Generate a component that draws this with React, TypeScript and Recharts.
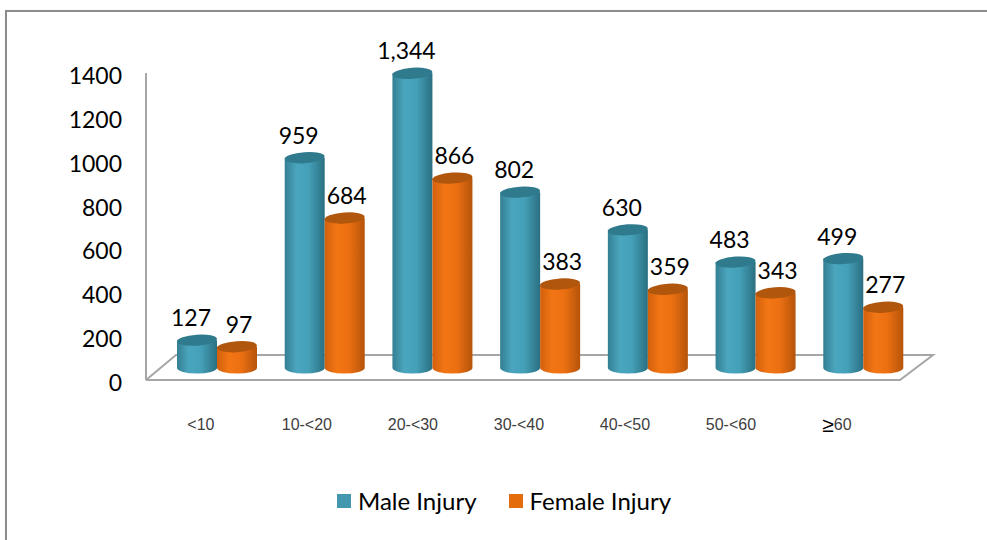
import React from 'react';
import { BarChart, Bar, XAxis, YAxis, LabelList, Customized } from 'recharts';

const categories = ['<10', '10-<20', '20-<30', '30-<40', '40-<50', '50-<60', '≥60'];
const maleInjury = [127, 959, 1344, 802, 630, 483, 499];
const femaleInjury = [97, 684, 866, 383, 359, 343, 277];
const yTicks = [0, 200, 400, 600, 800, 1000, 1200, 1400];

const data = categories.map((age, i) => ({
  age,
  male: maleInjury[i],
  female: femaleInjury[i],
}));

const W = 987;
const H = 540;
const PLOT_LEFT = 163;
const PLOT_RIGHT = 917;
const PLOT_TOP = 61;
const PLOT_BOTTOM = 368;
const X_AXIS_H = 60;

const FONT = 'Lato, "Open Sans", sans-serif';

const MALE = { top: '#2f7a8d', legend: '#4398b0', grad: 'gradMale', labelDx: -6 };
const FEMALE = { top: '#b0560d', legend: '#e46c0a', grad: 'gradFemale', labelDx: 2 };

function Cylinder(props: any) {
  const { x, y, width, height, kind } = props;
  if (width == null || height == null) return null;
  const c = kind === 'male' ? MALE : FEMALE;
  const rx = width / 2;
  const ry = 5.5;
  const cx = x + rx;
  const bottom = y + height;
  return (
    <g>
      <path
        d={`M${x},${y} L${x},${bottom} A${rx},${ry} 0 0 0 ${x + width},${bottom} L${x + width},${y} Z`}
        fill={`url(#${c.grad})`}
      />
      <ellipse cx={cx} cy={y} rx={rx} ry={ry} fill={c.top} transform={`rotate(-4 ${cx} ${y})`} />
    </g>
  );
}

function ValueLabel(props: any) {
  const { x, y, width, value, dx } = props;
  return (
    <text
      x={x + width / 2 + dx}
      y={y - 14}
      textAnchor="middle"
      fontFamily={FONT}
      fontSize={23}
      fill="#000"
    >
      {Number(value).toLocaleString('en-US')}
    </text>
  );
}

function YTick(props: any) {
  const { y, payload } = props;
  return (
    <text
      x={PLOT_LEFT - 41}
      y={y + 14}
      textAnchor="end"
      dominantBaseline="central"
      fontFamily={FONT}
      fontSize={23}
      fill="#000"
    >
      {payload.value}
    </text>
  );
}

function XTick(props: any) {
  const { x, payload, index } = props;
  const label: string = payload.value;
  const ge = label.startsWith('≥');
  return (
    <text
      x={x - 16 - index * 1.7}
      y={PLOT_BOTTOM + 56}
      textAnchor="middle"
      dominantBaseline="central"
      fontFamily='"Liberation Sans", Arial, sans-serif'
      fontSize={16}
      fill="#404040"
    >
      {ge ? (
        <>
          <tspan fontSize={21} fill="#000">≥</tspan>
          <tspan>{label.slice(1)}</tspan>
        </>
      ) : (
        label
      )}
    </text>
  );
}

// floor + left wall edge, drawn behind the cylinders
function Floor() {
  const front = PLOT_BOTTOM + 12;
  const back = PLOT_BOTTOM - 13;
  const stroke = '#a6a6a6';
  return (
    <g>
      <polyline
        points={`${PLOT_LEFT - 17},${front} ${PLOT_RIGHT - 17},${front} ${PLOT_RIGHT + 16},${back} ${PLOT_LEFT + 13},${back} ${PLOT_LEFT - 17},${front}`}
        fill="none"
        stroke={stroke}
        strokeWidth={2}
      />
      <line x1={PLOT_LEFT - 17} y1={front} x2={PLOT_LEFT - 17} y2={PLOT_TOP + 12} stroke={stroke} strokeWidth={2} />
    </g>
  );
}

function LegendItem({ color, label }: { color: string; label: string }) {
  return (
    <div style={{ display: 'flex', alignItems: 'center', marginRight: 32 }}>
      <span style={{ width: 14, height: 14, background: color, display: 'inline-block', marginRight: 7 }} />
      <span style={{ fontFamily: FONT, fontSize: 24, color: '#000' }}>{label}</span>
    </div>
  );
}

export default function App() {
  return (
    <div style={{ position: 'absolute', left: 0, top: 0, width: W, height: H, overflow: 'hidden', background: '#fff' }}>
      <div
        style={{
          position: 'absolute',
          left: 5,
          top: 10,
          width: W + 50,
          height: H + 50,
          border: '2px solid #8c8c8c',
          boxShadow: '1px 1px 2px rgba(0,0,0,0.25)',
        }}
      />
      <div style={{ position: 'absolute', left: 0, top: 0 }}>
        <BarChart
          width={W}
          height={H}
          data={data}
          barSize={40}
          barGap={0}
          margin={{ top: PLOT_TOP, right: W - PLOT_RIGHT, bottom: H - PLOT_BOTTOM - X_AXIS_H, left: 0 }}
        >
          <defs>
            <linearGradient id="gradMale" x1="0" y1="0" x2="1" y2="0">
              <stop offset="0%" stopColor="#347f93" />
              <stop offset="30%" stopColor="#4aa6be" />
              <stop offset="60%" stopColor="#44a0b8" />
              <stop offset="100%" stopColor="#2b6f81" />
            </linearGradient>
            <linearGradient id="gradFemale" x1="0" y1="0" x2="1" y2="0">
              <stop offset="0%" stopColor="#d2600c" />
              <stop offset="30%" stopColor="#f27614" />
              <stop offset="60%" stopColor="#ec7012" />
              <stop offset="100%" stopColor="#b5540a" />
            </linearGradient>
          </defs>
          <Customized component={<Floor />} />
          <XAxis dataKey="age" height={X_AXIS_H} axisLine={false} tickLine={false} tick={<XTick />} interval={0} />
          <YAxis
            width={PLOT_LEFT}
            domain={[0, 1400]}
            ticks={yTicks}
            axisLine={false}
            tickLine={false}
            tick={<YTick />}
          />
          <Bar dataKey="male" name="Male Injury" shape={<Cylinder kind="male" />} isAnimationActive={false}>
            <LabelList dataKey="male" content={<ValueLabel dx={MALE.labelDx} />} />
          </Bar>
          <Bar dataKey="female" name="Female Injury" shape={<Cylinder kind="female" />} isAnimationActive={false}>
            <LabelList dataKey="female" content={<ValueLabel dx={FEMALE.labelDx} />} />
          </Bar>
        </BarChart>
      </div>
      <div style={{ position: 'absolute', left: 337, top: 486, display: 'flex' }}>
        <LegendItem color={MALE.legend} label="Male Injury" />
        <LegendItem color={FEMALE.legend} label="Female Injury" />
      </div>
    </div>
  );
}
